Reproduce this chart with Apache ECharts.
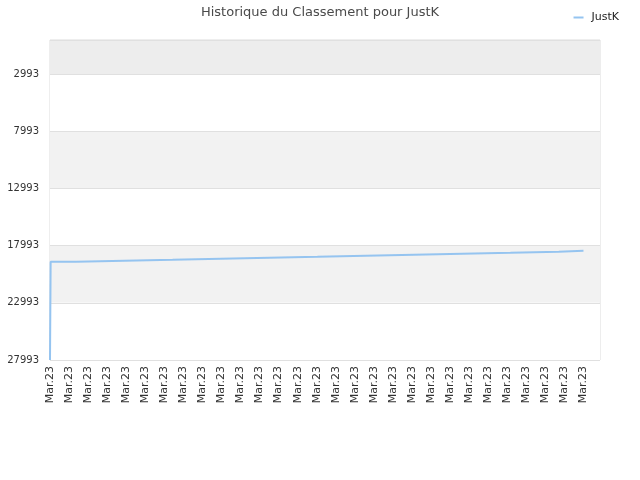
<!DOCTYPE html>
<html>
<head>
<meta charset="utf-8">
<script src="https://cdn.jsdelivr.net/npm/echarts@6/dist/echarts.min.js"></script>
<style>
  html, body { margin: 0; padding: 0; background: #fff; }
  #chart { width: 640px; height: 480px; }
</style>
</head>
<body>
<div id="chart"></div>
<script>
var playerName = 'JustK';
var titleText = 'Historique du Classement pour JustK';
var dateLabel = 'Mar.23';

// position along the time axis (one unit per sample) and rank at that point
var stepX = [0, 0.5, 20.5, 58.5, 96.5, 134.5, 172.5, 210.5, 248.5, 286.5, 324.5, 362.5, 400.5, 420];
var rankValues = [27993, 19390, 19300, 19220, 19130, 19040, 18960, 18870, 18780, 18690, 18610, 18520, 18430, 18430];

var rankTicks = [2993, 7993, 12993, 17993, 22993, 27993];
var rankMin = 0;
var rankMax = 27993;
var xMax = 433;
var labelEvery = 15;

var chart = echarts.init(document.getElementById('chart'));

var option = {
    animation: false,
    textStyle: { fontFamily: 'DejaVu Sans' },
    title: {
        text: titleText,
        left: 'center',
        top: 1,
        textStyle: { fontSize: 13, fontWeight: 'normal', color: '#4a4a4a', fontFamily: 'DejaVu Sans' }
    },
    legend: {
        data: [playerName],
        right: 16,
        top: 7,
        itemWidth: 10,
        itemHeight: 2,
        icon: 'rect',
        textStyle: { fontSize: 11, color: '#222', fontFamily: 'DejaVu Sans', padding: [0, 0, 0, 3] }
    },
    grid: {
        left: 50,
        right: 40,
        top: 40,
        bottom: 120,
        show: true,
        borderColor: '#dcdcdc',
        borderWidth: 1
    },
    xAxis: {
        type: 'value',
        min: 0,
        max: xMax,
        interval: labelEvery,
        axisLine: { show: false },
        axisTick: { show: false },
        splitLine: { show: false },
        axisLabel: {
            rotate: 90,
            fontSize: 11,
            color: '#333',
            margin: 6,
            showMaxLabel: false,
            formatter: function () { return dateLabel; }
        }
    },
    yAxis: {
        type: 'value',
        inverse: true,
        min: rankMin,
        max: rankMax,
        axisLine: { show: false },
        axisTick: { show: false, customValues: [rankMin].concat(rankTicks) },
        axisLabel: {
            customValues: rankTicks,
            fontSize: 10,
            color: '#333',
            margin: 11,
            formatter: function (v) { return String(v); }
        },
        splitLine: { show: true, lineStyle: { color: '#e0e0e0' } },
        splitArea: {
            show: true,
            areaStyle: { color: ['#ededed', '#ffffff', '#f2f2f2', '#ffffff', '#f2f2f2', '#ffffff'] }
        }
    },
    series: [{
        name: playerName,
        type: 'line',
        step: 'end',
        showSymbol: false,
        data: stepX.map(function (x, i) { return [x, rankValues[i]]; }),
        lineStyle: { color: '#95c4f0', width: 2 },
        itemStyle: { color: '#95c4f0' }
    }]
};

chart.setOption(option);
</script>
</body>
</html>
